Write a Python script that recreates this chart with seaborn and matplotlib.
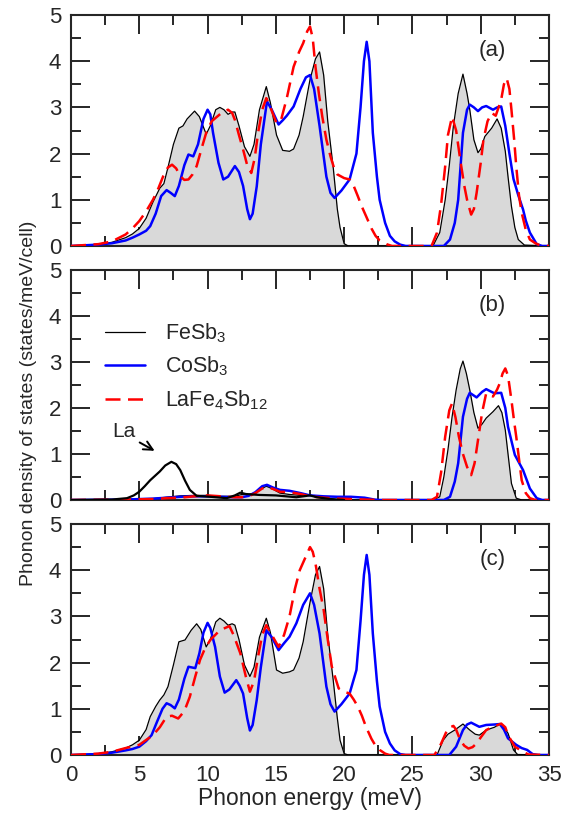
import numpy as np
import pandas as pd
import matplotlib
matplotlib.use("Agg")
import matplotlib.pyplot as plt
from matplotlib.ticker import MultipleLocator
import seaborn as sns

# phonon DOS: (energy meV, states/meV/cell)
fesb3_a = [(0, 0), (1, 0.01), (2, 0.03), (3, 0.08), (4, 0.18), (4.5, 0.26), (5, 0.38), (5.5, 0.6), (6, 0.95),
           (6.5, 1.25), (6.8, 1.35), (7.1, 1.7), (7.5, 2.2), (7.9, 2.55), (8.2, 2.6), (8.5, 2.75), (9.05, 2.92),
           (9.4, 2.8), (9.9, 2.42), (10.2, 2.6), (10.6, 2.95), (10.9, 3.0), (11.2, 2.95), (11.5, 2.85), (11.8, 2.9),
           (12.0, 2.9), (12.3, 2.6), (12.7, 2.15), (13.1, 1.94), (13.4, 2.2), (13.8, 2.95), (14.3, 3.45), (14.6, 3.1),
           (15.05, 2.4), (15.5, 2.07), (16.0, 2.05), (16.3, 2.1), (16.7, 2.4), (17.0, 2.8), (17.5, 3.6), (17.9, 4.05),
           (18.2, 4.2), (18.5, 3.7), (18.8, 2.7), (19.2, 1.7), (19.5, 0.8), (19.7, 0.4), (20.0, 0.05), (20.3, 0),
           (26.5, 0), (27.0, 0.29), (27.4, 1.0), (27.7, 1.75), (28.0, 2.6), (28.35, 3.3), (28.7, 3.72), (29.0, 3.3),
           (29.2, 2.95), (29.5, 2.3), (29.8, 2.02), (30.0, 2.1), (30.3, 2.37), (30.8, 2.55), (31.2, 2.75),
           (31.5, 2.55), (31.8, 2.05), (32.0, 1.5), (32.25, 0.86), (32.5, 0.4), (32.75, 0.14), (33.2, 0.02), (35, 0)]
cosb3_a = [(0, 0), (2, 0.03), (3, 0.06), (4, 0.12), (4.5, 0.18), (5, 0.25), (5.5, 0.33), (5.8, 0.43), (6.2, 0.7),
           (6.6, 1.08), (7.0, 1.21), (7.3, 1.15), (7.6, 1.08), (7.9, 1.3), (8.3, 1.75), (8.6, 1.98), (8.95, 1.94),
           (9.3, 2.2), (9.7, 2.75), (10.0, 2.95), (10.2, 2.85), (10.4, 2.45), (10.8, 1.8), (11.15, 1.44), (11.5, 1.5),
           (12.0, 1.73), (12.3, 1.6), (12.6, 1.3), (12.9, 0.8), (13.1, 0.58), (13.3, 0.7), (13.6, 1.29), (13.9, 2.2),
           (14.35, 3.13), (14.7, 2.95), (15.2, 2.63), (15.5, 2.72), (15.8, 2.82), (16.3, 3.02), (16.8, 3.4),
           (17.2, 3.65), (17.5, 3.7), (17.8, 3.4), (18.2, 2.6), (18.7, 1.5), (19.0, 1.15), (19.3, 1.04), (19.8, 1.2),
           (20.4, 1.44), (20.9, 2.0), (21.2, 3.0), (21.45, 4.0), (21.65, 4.42), (21.85, 4.0), (22.1, 2.45),
           (22.4, 1.5), (22.6, 1.0), (23.0, 0.5), (23.35, 0.22), (23.7, 0.1), (24.1, 0.03), (24.5, 0), (27.3, 0),
           (27.75, 0.14), (28.1, 0.5), (28.35, 1.0), (28.7, 2.45), (29.0, 2.95), (29.2, 3.06), (29.5, 3.0),
           (29.8, 2.92), (30.1, 3.0), (30.4, 3.03), (30.9, 2.95), (31.2, 3.0), (31.5, 3.02), (31.8, 2.6), (32.1, 2.0),
           (32.4, 1.45), (32.75, 1.1), (33.1, 0.79), (33.3, 0.55), (33.6, 0.29), (34.1, 0.04), (34.5, 0), (35, 0)]
lafe_a = [(0, 0), (2, 0.04), (3, 0.1), (4, 0.25), (4.5, 0.38), (5, 0.54), (5.5, 0.75), (6, 1.0), (6.4, 1.25),
          (6.75, 1.51), (7.1, 1.7), (7.4, 1.76), (7.7, 1.68), (8.0, 1.51), (8.3, 1.43), (8.6, 1.44), (8.9, 1.55),
          (9.2, 1.73), (9.6, 2.15), (9.9, 2.45), (10.3, 2.7), (10.7, 2.8), (11.1, 2.9), (11.5, 2.95), (11.8, 2.88),
          (12.0, 2.73), (12.3, 2.4), (12.6, 2.09), (12.9, 1.75), (13.2, 1.58), (13.45, 1.9), (13.7, 2.45),
          (14.0, 2.95), (14.3, 3.2), (14.6, 3.0), (15.05, 2.66), (15.4, 2.75), (15.8, 3.2), (16.3, 3.88), (16.7, 4.2),
          (17.0, 4.39), (17.3, 4.65), (17.5, 4.75), (17.7, 4.5), (17.9, 3.88), (18.15, 3.3), (18.4, 2.8), (18.7, 2.3),
          (19.0, 1.94), (19.3, 1.65), (19.5, 1.55), (20.0, 1.47), (20.4, 1.44), (20.7, 1.3), (21.0, 1.08),
          (21.3, 0.85), (21.6, 0.65), (22.0, 0.38), (22.3, 0.22), (22.6, 0.12), (23.1, 0.04), (23.5, 0), (26.4, 0),
          (26.8, 0.29), (27.1, 0.9), (27.4, 1.73), (27.6, 2.4), (27.9, 2.8), (28.2, 2.5), (28.5, 1.87), (28.8, 1.3),
          (29.0, 1.0), (29.3, 0.68), (29.5, 0.8), (29.7, 1.15), (30.0, 1.8), (30.2, 2.3), (30.5, 2.7), (30.8, 2.88),
          (31.1, 2.82), (31.5, 3.17), (31.7, 3.5), (31.9, 3.63), (32.1, 3.4), (32.25, 2.95), (32.45, 2.3),
          (32.6, 1.73), (32.8, 1.1), (33.0, 0.72), (33.3, 0.35), (33.6, 0.14), (34.0, 0.06), (34.3, 0.02), (35, 0)]

fesb3_b = [(0, 0), (4, 0.01), (6, 0.03), (7, 0.06), (8, 0.09), (9, 0.1), (10, 0.1), (11, 0.08), (12, 0.08),
           (12.5, 0.12), (13, 0.12), (13.5, 0.15), (14, 0.25), (14.3, 0.3), (14.7, 0.25), (15.3, 0.15), (16, 0.12),
           (16.8, 0.1), (17.5, 0.1), (18, 0.08), (18.5, 0.05), (19.5, 0.01), (20.5, 0), (26.5, 0), (27.0, 0.07),
           (27.3, 0.5), (27.6, 1.09), (27.9, 1.8), (28.2, 2.39), (28.5, 2.85), (28.7, 3.02), (28.95, 2.75),
           (29.2, 2.39), (29.5, 1.9), (29.8, 1.56), (30.1, 1.65), (30.4, 1.78), (30.9, 1.92), (31.3, 2.05),
           (31.55, 1.9), (31.8, 1.52), (32.0, 1.0), (32.25, 0.36), (32.6, 0.04), (33, 0), (35, 0)]
cosb3_b = [(0, 0), (4, 0.01), (6, 0.03), (7, 0.05), (8, 0.07), (9, 0.08), (10, 0.08), (11, 0.07), (12, 0.06),
           (12.5, 0.06), (13, 0.09), (13.5, 0.17), (14, 0.3), (14.35, 0.33), (14.8, 0.27), (15.3, 0.22), (16, 0.2),
           (16.8, 0.15), (17.5, 0.1), (18.5, 0.08), (19.5, 0.07), (20.5, 0.07), (21.5, 0.05), (22.2, 0.01),
           (22.6, 0), (27.3, 0), (27.75, 0.07), (28.1, 0.4), (28.35, 0.8), (28.7, 1.81), (29.0, 2.2), (29.2, 2.33),
           (29.7, 2.23), (30.1, 2.35), (30.4, 2.41), (31.0, 2.32), (31.5, 2.33), (31.8, 2.0), (32.0, 1.59),
           (32.5, 0.98), (33.1, 0.65), (33.35, 0.45), (33.6, 0.25), (34.1, 0.04), (34.5, 0), (35, 0)]
lafe_b = [(0, 0), (4, 0.01), (6, 0.02), (7, 0.04), (8, 0.05), (9, 0.08), (10, 0.1), (11, 0.08), (12, 0.06),
          (12.5, 0.06), (13, 0.08), (13.5, 0.15), (14, 0.25), (14.3, 0.28), (14.8, 0.24), (15.3, 0.18), (16, 0.17),
          (16.8, 0.13), (17.5, 0.08), (18.5, 0.05), (19.5, 0.03), (20.5, 0.02), (21.5, 0.01), (22.5, 0), (26.4, 0),
          (26.8, 0.07), (27.1, 0.6), (27.4, 1.38), (27.7, 1.95), (27.9, 2.1), (28.15, 1.8), (28.4, 1.38),
          (28.7, 1.0), (29.0, 0.72), (29.3, 0.54), (29.55, 0.8), (29.8, 1.3), (30.1, 1.9), (30.4, 2.32),
          (30.9, 2.25), (31.2, 2.4), (31.4, 2.54), (31.6, 2.75), (31.8, 2.86), (32.0, 2.7), (32.25, 2.17),
          (32.45, 1.7), (32.6, 1.38), (32.8, 0.9), (33.0, 0.43), (33.3, 0.15), (33.6, 0.04), (34, 0), (35, 0)]
la_b = [(0, 0), (3, 0.01), (4.1, 0.04), (4.6, 0.1), (5, 0.18), (5.4, 0.3), (5.8, 0.43), (6.5, 0.62), (6.9, 0.75),
        (7.35, 0.83), (7.7, 0.78), (8.0, 0.65), (8.35, 0.42), (8.7, 0.22), (9.2, 0.09), (10.2, 0.07), (11.4, 0.04),
        (12.0, 0.1), (12.4, 0.16), (12.8, 0.13), (13.8, 0.11), (15, 0.1), (16.5, 0.06), (17.5, 0.1), (18, 0.06),
        (19, 0.02), (20, 0)]

fesb3_c = [(0, 0), (2, 0.03), (3, 0.07), (4, 0.15), (4.5, 0.22), (5, 0.32), (5.5, 0.55), (5.8, 0.83), (6.2, 1.05),
           (6.5, 1.19), (6.8, 1.3), (7.1, 1.48), (7.5, 1.95), (7.9, 2.45), (8.35, 2.49), (8.8, 2.7), (9.2, 2.84),
           (9.5, 2.72), (9.9, 2.34), (10.2, 2.5), (10.6, 2.88), (10.9, 2.96), (11.2, 2.9), (11.5, 2.81), (11.8, 2.84),
           (12.0, 2.81), (12.3, 2.5), (12.7, 1.95), (13.1, 1.7), (13.4, 1.9), (13.8, 2.55), (14.3, 2.96),
           (14.6, 2.65), (15.05, 1.84), (15.5, 1.77), (16.0, 1.8), (16.3, 1.84), (16.7, 2.1), (17.0, 2.45),
           (17.5, 3.3), (17.9, 3.9), (18.2, 4.08), (18.5, 3.6), (18.8, 2.6), (19.2, 1.62), (19.5, 0.8), (19.7, 0.32),
           (20.0, 0.03), (20.3, 0), (26.8, 0), (27.25, 0.32), (27.6, 0.45), (28.1, 0.54), (28.7, 0.67), (29.2, 0.54),
           (29.6, 0.45), (29.9, 0.43), (30.4, 0.54), (31.0, 0.6), (31.4, 0.67), (31.7, 0.6), (32.0, 0.47),
           (32.4, 0.11), (32.7, 0.01), (35, 0)]
cosb3_c = [(0, 0), (2, 0.02), (3, 0.05), (4, 0.1), (4.5, 0.13), (5, 0.18), (5.5, 0.3), (5.9, 0.43), (6.3, 0.72),
           (6.7, 1.0), (7.0, 1.12), (7.3, 1.08), (7.6, 1.01), (7.9, 1.2), (8.3, 1.65), (8.6, 1.91), (9.1, 1.88),
           (9.4, 2.2), (9.7, 2.65), (10.0, 2.86), (10.2, 2.75), (10.55, 2.34), (10.9, 1.7), (11.25, 1.35),
           (11.6, 1.42), (12.1, 1.62), (12.35, 1.5), (12.6, 1.33), (12.9, 0.8), (13.1, 0.53), (13.3, 0.65),
           (13.6, 1.19), (13.9, 1.9), (14.3, 2.7), (14.7, 2.55), (15.2, 2.27), (15.6, 2.42), (16.0, 2.56),
           (16.5, 2.85), (17.0, 3.25), (17.5, 3.5), (17.8, 3.25), (18.2, 2.63), (18.7, 1.48), (19.0, 1.1),
           (19.3, 0.94), (19.8, 1.1), (20.4, 1.33), (20.9, 1.84), (21.2, 2.9), (21.45, 3.9), (21.65, 4.33),
           (21.85, 3.9), (22.1, 2.63), (22.4, 1.6), (22.6, 1.05), (23.0, 0.5), (23.35, 0.25), (23.7, 0.1),
           (24.1, 0.02), (24.5, 0), (27.7, 0), (28.2, 0.18), (28.7, 0.54), (29.0, 0.66), (29.3, 0.7), (29.9, 0.61),
           (30.4, 0.65), (31.0, 0.66), (31.4, 0.67), (31.7, 0.55), (32.0, 0.36), (32.6, 0.22), (33.0, 0.15),
           (33.4, 0.11), (33.8, 0.02), (34.2, 0), (35, 0)]
lafe_c = [(0, 0), (2, 0.03), (3, 0.07), (4, 0.15), (5, 0.22), (6, 0.43), (6.5, 0.6), (7, 0.83), (7.4, 0.85),
          (7.85, 0.79), (8.3, 0.95), (8.7, 1.26), (9.1, 1.7), (9.45, 2.06), (9.8, 2.3), (10.2, 2.49), (10.9, 2.7),
          (11.6, 2.79), (11.9, 2.6), (12.4, 2.2), (12.8, 1.7), (13.1, 1.37), (13.4, 1.6), (13.7, 2.13), (14.0, 2.6),
          (14.3, 2.81), (14.7, 2.6), (15.2, 2.34), (15.6, 2.6), (16.0, 3.0), (16.4, 3.6), (16.75, 4.0), (17.2, 4.3),
          (17.5, 4.5), (17.7, 4.4), (17.9, 4.15), (18.2, 3.6), (18.5, 3.14), (18.8, 2.5), (19.1, 1.91), (19.6, 1.44),
          (20.0, 1.37), (20.4, 1.33), (20.7, 1.2), (21.0, 1.05), (21.3, 0.85), (21.6, 0.61), (22.0, 0.35),
          (22.3, 0.2), (22.6, 0.11), (23.0, 0.03), (23.3, 0), (26.6, 0), (27.0, 0.18), (27.3, 0.38), (27.6, 0.58),
          (28.0, 0.63), (28.2, 0.55), (28.5, 0.32), (28.8, 0.2), (29.1, 0.14), (29.4, 0.17), (29.7, 0.25),
          (30.0, 0.38), (30.4, 0.54), (30.9, 0.61), (31.5, 0.68), (31.8, 0.6), (32.0, 0.43), (32.5, 0.18),
          (33.1, 0.07), (33.5, 0.01), (35, 0)]

panels = [("(a)", fesb3_a, cosb3_a, lafe_a),
          ("(b)", fesb3_b, cosb3_b, lafe_b),
          ("(c)", fesb3_c, cosb3_c, lafe_c)]

sns.set_style("ticks")
plt.rcParams["font.family"] = ["Liberation Sans", "DejaVu Sans"]
plt.rcParams["mathtext.default"] = "regular"
FS = 16


def to_df(pts):
    return pd.DataFrame(pts, columns=["energy", "dos"])


fig = plt.figure(figsize=(5.69, 8.15), dpi=100)
L, R = 71 / 569, 549 / 569
tops = [15, 270, 524]
bots = [246, 500, 755]
axes = []
for t, b in zip(tops, bots):
    axes.append(fig.add_axes([L, 1 - b / 815, R - L, (b - t) / 815]))

for ax, (tag, fe, co, la) in zip(axes, panels):
    fe_df, co_df, la_df = to_df(fe), to_df(co), to_df(la)
    ax.fill_between(fe_df.energy, 0, fe_df.dos, color="#d9d9d9", lw=0, zorder=1)
    sns.lineplot(data=fe_df, x="energy", y="dos", ax=ax, color="black", lw=0.9,
                 estimator=None, sort=False, label="FeSb$_3$", legend=False, zorder=3)
    sns.lineplot(data=co_df, x="energy", y="dos", ax=ax, color="#0000ff", lw=1.8,
                 estimator=None, sort=False, label="CoSb$_3$", legend=False, zorder=4)
    sns.lineplot(data=la_df, x="energy", y="dos", ax=ax, color="#ff0000", lw=1.8,
                 linestyle=(0, (6, 3)), estimator=None, sort=False,
                 label="LaFe$_4$Sb$_{12}$", legend=False, zorder=5)

    ax.set_xlim(0, 35)
    ax.set_ylim(0, 5)
    ax.xaxis.set_major_locator(MultipleLocator(5))
    ax.xaxis.set_minor_locator(MultipleLocator(2.5))
    ax.yaxis.set_major_locator(MultipleLocator(1))
    ax.yaxis.set_minor_locator(MultipleLocator(0.5))
    ax.tick_params(which="both", direction="in", top=True, right=True, width=1.4,
                   labelsize=FS, pad=7)
    ax.tick_params(which="major", length=14)
    ax.tick_params(which="minor", length=7)
    for s in ax.spines.values():
        s.set_linewidth(1.5)
    ax.set_xlabel("")
    ax.set_ylabel("")
    ax.text(30.85, 4.23, tag, fontsize=FS, ha="center", va="center")

axes[0].tick_params(labelbottom=False)
axes[1].tick_params(labelbottom=False)

# La partial DOS in panel (b)
la_df = to_df(la_b)
sns.lineplot(data=la_df, x="energy", y="dos", ax=axes[1], color="black", lw=1.6,
             estimator=None, sort=False, legend=False, zorder=6)
axes[1].set_xlabel("")
axes[1].set_ylabel("")
axes[1].text(3.84, 1.48, "La", fontsize=15, ha="center", va="center")
axes[1].annotate("", xy=(6.3, 1.04), xytext=(4.85, 1.28),
                 arrowprops=dict(arrowstyle="->", lw=1.4, color="black", mutation_scale=16))
h, lab = axes[1].get_legend_handles_labels()
axes[1].legend(h[:3], lab[:3], loc="upper left", bbox_to_anchor=(0.03, 0.86), frameon=False,
               fontsize=15.5, handlelength=1.85, handletextpad=0.95, labelspacing=0.45)

axes[2].set_xlabel("Phonon energy (meV)", fontsize=16.5, labelpad=1)
fig.text(0.05, 0.505, "Phonon density of states (states/meV/cell)", rotation=90,
         ha="center", va="center", fontsize=14)

fig.savefig("out.png", dpi=100)
